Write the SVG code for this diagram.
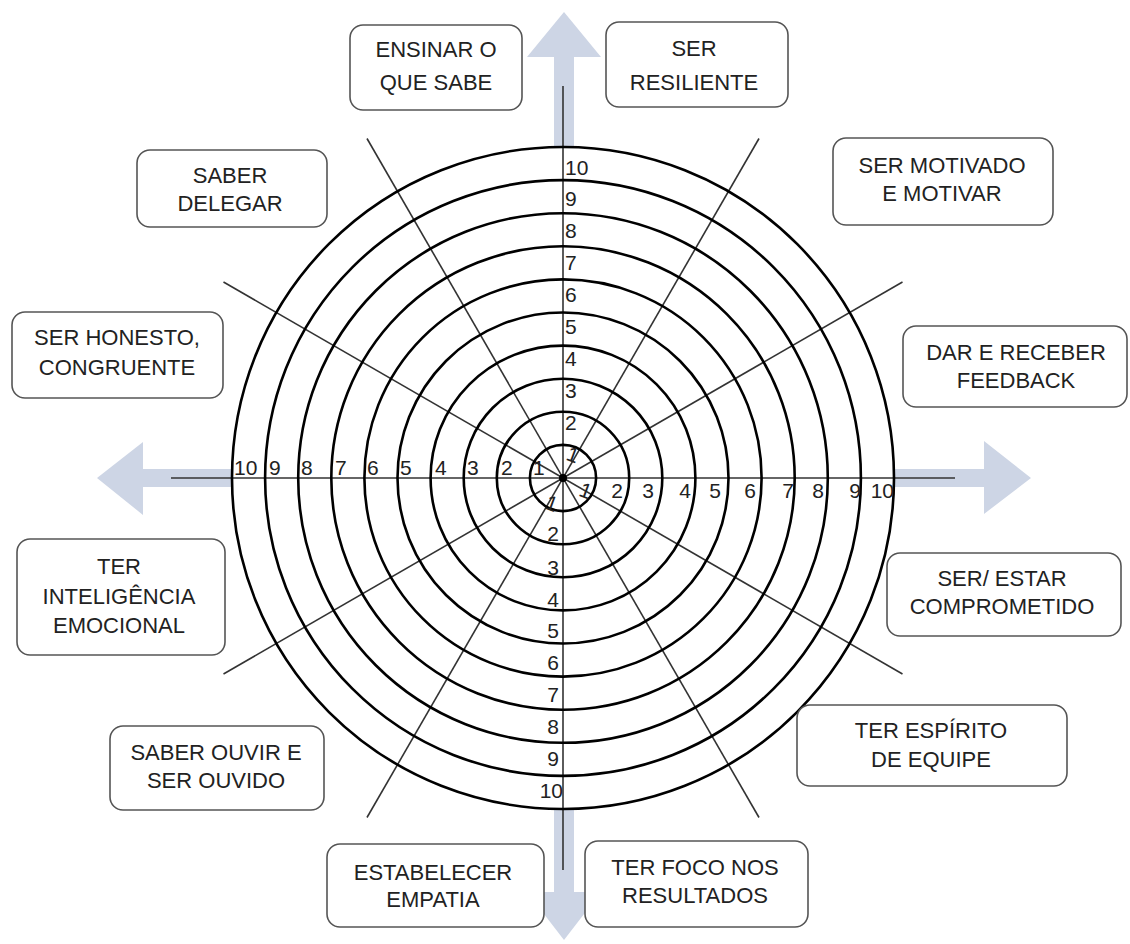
<svg xmlns="http://www.w3.org/2000/svg" width="1130" height="944" viewBox="0 0 1130 944">
<style>
.arrow{fill:#cdd5e5}
.spoke{stroke:#333;stroke-width:1.6}
.ring{fill:none;stroke:#000;stroke-width:2.6}
.box{fill:#fff;stroke:#555;stroke-width:1.6}
.lbl{font-family:"Liberation Sans",Arial,sans-serif;font-size:22px;fill:#222;text-anchor:middle}
.num{font-family:"Liberation Sans",Arial,sans-serif;font-size:21px;fill:#222}
.e{text-anchor:end}
</style>
<rect width="1130" height="944" fill="#fff"/>
<g id="arrows">
<polygon class="arrow" points="554,148 554,57 527,57 564,12 601,57 574,57 574,148"/>
<polygon class="arrow" points="554,808 554,892 527,892 564,940 601,892 574,892 574,808"/>
<polygon class="arrow" points="233,469 143,469 143,442 97,478 143,515 143,487 233,487"/>
<polygon class="arrow" points="893,469 984,469 984,441 1031,478 984,514 984,487 893,487"/>
</g>
<g id="connectors">
<line class="spoke" x1="171" y1="478" x2="955" y2="478"/>
<line class="spoke" x1="563" y1="86" x2="563" y2="870"/>
<line class="spoke" x1="902.5" y1="282" x2="223.5" y2="674"/>
<line class="spoke" x1="223.5" y1="282" x2="902.5" y2="674"/>
<line class="spoke" x1="759" y1="138.5" x2="367" y2="817.5"/>
<line class="spoke" x1="367" y1="138.5" x2="759" y2="817.5"/>
</g>
<g id="rings">
<circle class="ring" cx="563" cy="478" r="33.1"/>
<circle class="ring" cx="563" cy="478" r="66.2"/>
<circle class="ring" cx="563" cy="478" r="99.3"/>
<circle class="ring" cx="563" cy="478" r="132.4"/>
<circle class="ring" cx="563" cy="478" r="165.5"/>
<circle class="ring" cx="563" cy="478" r="198.6"/>
<circle class="ring" cx="563" cy="478" r="231.7"/>
<circle class="ring" cx="563" cy="478" r="264.8"/>
<circle class="ring" cx="563" cy="478" r="297.9"/>
<circle class="ring" cx="563" cy="478" r="331"/>
<circle cx="563" cy="478" r="4" fill="#000"/>
</g>
<g id="scale-top">
<text class="num" x="565" y="175">10</text>
<text class="num" x="565" y="206">9</text>
<text class="num" x="565" y="238">8</text>
<text class="num" x="565" y="270">7</text>
<text class="num" x="565" y="302">6</text>
<text class="num" x="565" y="334">5</text>
<text class="num" x="565" y="366">4</text>
<text class="num" x="565" y="398">3</text>
<text class="num" x="565" y="430">2</text>
<text class="num" x="567" y="462" transform="rotate(20 573 455)">1</text>
</g>
<g id="scale-bottom">
<text class="num" x="546" y="510" transform="rotate(20 550 503)">1</text>
<text class="num e" x="559" y="541">2</text>
<text class="num e" x="559" y="575">3</text>
<text class="num e" x="559" y="607">4</text>
<text class="num e" x="559" y="638">5</text>
<text class="num e" x="559" y="670">6</text>
<text class="num e" x="559" y="702">7</text>
<text class="num e" x="559" y="734">8</text>
<text class="num e" x="559" y="766">9</text>
<text class="num e" x="563" y="798">10</text>
</g>
<g id="scale-left">
<text class="num" x="234" y="475">10</text>
<text class="num" x="269" y="475">9</text>
<text class="num" x="301" y="475">8</text>
<text class="num" x="335" y="475">7</text>
<text class="num" x="367" y="475">6</text>
<text class="num" x="400" y="475">5</text>
<text class="num" x="435" y="475">4</text>
<text class="num" x="467" y="475">3</text>
<text class="num" x="501" y="475">2</text>
<text class="num" x="533" y="475">1</text>
</g>
<g id="scale-right">
<text class="num" x="580" y="498" transform="rotate(20 586 490)">1</text>
<text class="num e" x="623" y="498">2</text>
<text class="num e" x="654" y="498">3</text>
<text class="num e" x="691" y="498">4</text>
<text class="num e" x="721" y="498">5</text>
<text class="num e" x="756" y="498">6</text>
<text class="num e" x="794" y="498">7</text>
<text class="num e" x="824" y="498">8</text>
<text class="num e" x="861" y="498">9</text>
<text class="num e" x="894" y="498">10</text>
</g>
<g id="n-ensinar"><rect class="box" x="350" y="25" width="172" height="85" rx="13"/><text class="lbl" x="436" y="57">ENSINAR O</text><text class="lbl" x="436" y="90">QUE SABE</text></g>
<g id="n-resiliente"><rect class="box" x="606" y="22" width="182" height="85" rx="13"/><text class="lbl" x="694" y="56">SER</text><text class="lbl" x="694" y="90">RESILIENTE</text></g>
<g id="n-delegar"><rect class="box" x="137" y="150" width="190" height="77" rx="13"/><text class="lbl" x="230" y="183">SABER</text><text class="lbl" x="230" y="211">DELEGAR</text></g>
<g id="n-motivado"><rect class="box" x="833" y="138" width="220" height="87" rx="13"/><text class="lbl" x="942" y="173">SER MOTIVADO</text><text class="lbl" x="942" y="201">E MOTIVAR</text></g>
<g id="n-honesto"><rect class="box" x="12" y="312" width="211" height="86" rx="13"/><text class="lbl" x="117" y="345">SER HONESTO,</text><text class="lbl" x="117" y="375">CONGRUENTE</text></g>
<g id="n-feedback"><rect class="box" x="903" y="326" width="224" height="81" rx="13"/><text class="lbl" x="1016" y="360">DAR E RECEBER</text><text class="lbl" x="1016" y="388">FEEDBACK</text></g>
<g id="n-inteligencia"><rect class="box" x="17" y="539" width="208" height="116" rx="13"/><text class="lbl" x="119" y="574">TER</text><text class="lbl" x="119" y="604">INTELIGÊNCIA</text><text class="lbl" x="119" y="633">EMOCIONAL</text></g>
<g id="n-comprometido"><rect class="box" x="887" y="553" width="234" height="83" rx="13"/><text class="lbl" x="1002" y="586">SER/ ESTAR</text><text class="lbl" x="1002" y="614">COMPROMETIDO</text></g>
<g id="n-ouvir"><rect class="box" x="110" y="726" width="214" height="84" rx="13"/><text class="lbl" x="216" y="760">SABER OUVIR E</text><text class="lbl" x="216" y="788">SER OUVIDO</text></g>
<g id="n-equipe"><rect class="box" x="797" y="705" width="270" height="81" rx="13"/><text class="lbl" x="931" y="738">TER ESPÍRITO</text><text class="lbl" x="931" y="767">DE EQUIPE</text></g>
<g id="n-empatia"><rect class="box" x="327" y="844" width="217" height="83" rx="13"/><text class="lbl" x="433" y="880">ESTABELECER</text><text class="lbl" x="433" y="907">EMPATIA</text></g>
<g id="n-resultados"><rect class="box" x="585" y="841" width="223" height="86" rx="13"/><text class="lbl" x="695" y="875">TER FOCO NOS</text><text class="lbl" x="695" y="903">RESULTADOS</text></g>
</svg>
